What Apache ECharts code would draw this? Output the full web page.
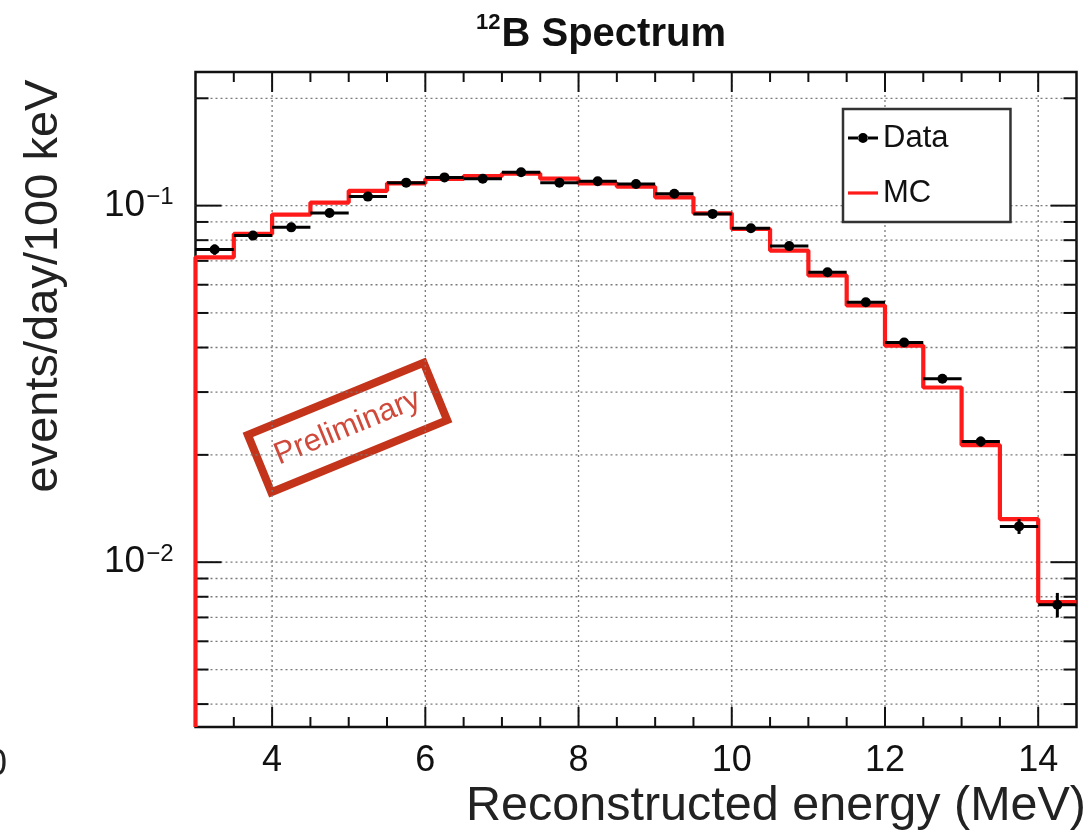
<!DOCTYPE html>
<html><head><meta charset="utf-8">
<script src="https://cdn.jsdelivr.net/npm/echarts@6/dist/echarts.min.js"></script>
<style>html,body{margin:0;padding:0;background:#fff}#c{width:1092px;height:837px}</style>
</head><body><div id="c"></div>
<script>
// ---- data ----
const binEdges = [3,3.5,4,4.5,5,5.5,6,6.5,7,7.5,8,8.5,9,9.5,10,10.5,11,11.5,12,12.5,13,13.5,14,14.5];
const binCenters = [3.25,3.75,4.25,4.75,5.25,5.75,6.25,6.75,7.25,7.75,8.25,8.75,9.25,9.75,10.25,10.75,11.25,11.75,12.25,12.75,13.25,13.75,14.25];
const dataValues = [0.0753,0.0824,0.0869,0.0954,0.106,0.116,0.120,0.119,0.124,0.116,0.117,0.115,0.108,0.0948,0.0864,0.0770,0.0650,0.0536,0.0413,0.0327,0.0218,0.0126,0.0076];
const dataErrors = [0.0025,0.002,0.002,0.002,0.002,0.002,0.002,0.002,0.0022,0.002,0.002,0.002,0.002,0.0018,0.0017,0.0015,0.0014,0.0012,0.001,0.0009,0.0007,0.0006,0.0006];
const mcValues = [0.0716,0.0833,0.0944,0.102,0.110,0.1155,0.1188,0.121,0.123,0.119,0.1155,0.113,0.1055,0.0952,0.086,0.0748,0.0637,0.0525,0.0405,0.0309,0.0213,0.0132,0.00773];
const xTickLabels = [4,6,8,10,12,14];
const xMinorTicks = [3.5,4.5,5,5.5,6.5,7,7.5,8.5,9,9.5,10.5,11,11.5,12.5,13,13.5];
const yTickLabels = [0.01,0.1];
const yMinorTicks = [0.004,0.005,0.006,0.007,0.008,0.009,0.02,0.03,0.04,0.05,0.06,0.07,0.08,0.09,0.2];
const xRange = [3,14.5];
const yRange = [0.00345,0.237];

const FONT = 'Liberation Sans, Arial, Helvetica, sans-serif';
const supDigits = {'-':'\u2212','0':'0','1':'1','2':'2','3':'3','4':'4','5':'5','6':'6','7':'7','8':'8','9':'9'};

const chart = echarts.init(document.getElementById('c'), null, {renderer:'canvas'});

const dataItems = binCenters.map((c,i)=>[c, dataValues[i], dataErrors[i], binEdges[i], binEdges[i+1]]);
const mcLine = [[binEdges[0], yRange[0]]]
  .concat(mcValues.map((v,i)=>[binEdges[i], v]))
  .concat([[binEdges[binEdges.length-1], mcValues[mcValues.length-1]]]);

function near(a,b){return Math.abs(a-b) < 1e-9*Math.max(1,Math.abs(b));}

const option = {
  animation:false,
  backgroundColor:'#fff',
  title:{
    text:'{s|12}{b|B Spectrum}',
    left:471, top:7,
    textStyle:{
      rich:{
        s:{fontSize:22,fontWeight:'bold',fontFamily:FONT,color:'#111',verticalAlign:'top',lineHeight:46,padding:[0,1,0,0]},
        b:{fontSize:40,fontWeight:'bold',fontFamily:FONT,color:'#111',lineHeight:46}
      }
    }
  },
  legend:{
    left:843, top:109, orient:'vertical',
    padding:[11,62,11,5], itemGap:19, itemWidth:30, itemHeight:10,
    backgroundColor:'#fff', borderColor:'#333', borderWidth:2.5,
    textStyle:{fontFamily:FONT,fontSize:31,color:'#111',lineHeight:36},
    data:[
      {name:'Data', icon:'path://M0,8.5H10.5V11.5H0Z M19.5,8.5H30V11.5H19.5Z M10,10A5,5 0 1,0 20,10A5,5 0 1,0 10,10Z'},
      {name:'MC', icon:'path://M0,0H30V3.2H0Z', itemStyle:{color:'#ff1a1a'}}
    ]
  },
  grid:{left:195.5, right:15.5, top:72, bottom:110, show:true, borderColor:'#111', borderWidth:2.5, backgroundColor:'transparent'},
  xAxis:{
    type:'value', min:xRange[0], max:xRange[1], interval:1,
    axisLine:{show:false}, axisTick:{show:false}, splitLine:{show:false},
    axisLabel:{
      margin:16, fontFamily:FONT, fontSize:36, color:'#111',
      formatter:v=> xTickLabels.some(t=>near(v,t)) ? String(v) : ''
    }
  },
  yAxis:{
    type:'log', logBase:10, min:yRange[0], max:yRange[1],
    axisLine:{show:false}, axisTick:{show:false}, splitLine:{show:false},
    axisLabel:{
      margin:22, color:'#111',
      formatter:v=>{
        if(!yTickLabels.some(t=>near(v,t))) return '';
        const e = Math.round(Math.log10(v));
        const s = String(e).split('').map(ch=>supDigits[ch]).join('');
        return '{b|10}{s|'+s+'}';
      },
      rich:{
        b:{fontFamily:FONT,fontSize:37,color:'#111',lineHeight:40},
        s:{fontFamily:FONT,fontSize:24,color:'#111',verticalAlign:'top',lineHeight:40,padding:[0,0,14,1]}
      }
    }
  },
  series:[
    {
      name:'gridlines', type:'custom', silent:true, z:1, clip:true,
      data:[[xRange[0], yRange[0]]],
      renderItem:(params, api)=>{
        const ch = [];
        const dash = {stroke:'#7a7a7a', lineWidth:1.3, lineDash:[2,3]};
        yMinorTicks.concat(yTickLabels).forEach(v=>{
          const a = api.coord([xRange[0], v]), b = api.coord([xRange[1], v]);
          ch.push({type:'line', shape:{x1:a[0],y1:a[1],x2:b[0],y2:b[1]}, style:dash});
        });
        xTickLabels.forEach(x=>{
          const a = api.coord([x, yRange[0]]), b = api.coord([x, yRange[1]]);
          ch.push({type:'line', shape:{x1:a[0],y1:a[1],x2:b[0],y2:b[1]}, style:dash});
        });
        return {type:'group', children:ch};
      }
    },
    {
      name:'ticks', type:'custom', silent:true, z:5, clip:false,
      data:[[xRange[0], yRange[0]]],
      renderItem:(params, api)=>{
        const ch = [];
        const st = {stroke:'#111', lineWidth:2};
        function tickY(v, len){
          const a = api.coord([xRange[0], v]), b = api.coord([xRange[1], v]);
          ch.push({type:'line', shape:{x1:a[0],y1:a[1],x2:a[0]+len,y2:a[1]}, style:st});
          ch.push({type:'line', shape:{x1:b[0],y1:b[1],x2:b[0]-len,y2:b[1]}, style:st});
        }
        function tickX(x, len){
          const a = api.coord([x, yRange[0]]), b = api.coord([x, yRange[1]]);
          ch.push({type:'line', shape:{x1:a[0],y1:a[1],x2:a[0],y2:a[1]-len}, style:st});
          ch.push({type:'line', shape:{x1:b[0],y1:b[1],x2:b[0],y2:b[1]+len}, style:st});
        }
        yTickLabels.forEach(v=>tickY(v, 26));
        yMinorTicks.forEach(v=>tickY(v, 13));
        xTickLabels.forEach(x=>tickX(x, 20));
        xMinorTicks.forEach(x=>tickX(x, 10));
        return {type:'group', children:ch};
      }
    },
    {
      name:'MC', type:'line', step:'end', data:mcLine, showSymbol:false, symbol:'none',
      z:6, clip:true,
      lineStyle:{color:'#ff1a1a', width:4.2}, itemStyle:{color:'#ff1a1a'}
    },
    {
      name:'Data', type:'custom', z:7, clip:true,
      itemStyle:{color:'#000'},
      data:dataItems,
      encode:{x:0, y:1},
      renderItem:(params, api)=>{
        const x = api.value(0), y = api.value(1), e = api.value(2), lo = api.value(3), hi = api.value(4);
        const p = api.coord([x,y]);
        const l = api.coord([lo,y]), r = api.coord([hi,y]);
        const t = api.coord([x,y+e]), b = api.coord([x,y-e]);
        const st = {stroke:'#000', lineWidth:3};
        return {type:'group', children:[
          {type:'line', shape:{x1:l[0],y1:l[1],x2:r[0],y2:r[1]}, style:st},
          {type:'line', shape:{x1:t[0],y1:t[1],x2:b[0],y2:b[1]}, style:st},
          {type:'circle', shape:{cx:p[0],cy:p[1],r:5}, style:{fill:'#000'}}
        ]};
      }
    }
  ],
  graphic:[
    {type:'text', left:-13, top:747, style:{text:'0', font:'36px '+FONT, fill:'#222'}},
    {type:'text', rotation:Math.PI/2, x:21, y:286, style:{text:'events/day/100 keV', font:'47px '+FONT, fill:'#222', textAlign:'center', textVerticalAlign:'top'}},
    {type:'text', x:1086, y:782, style:{text:'Reconstructed energy (MeV)', font:'48.5px '+FONT, fill:'#222', textAlign:'right', textVerticalAlign:'top'}},
    {type:'group', x:347.5, y:427.5, rotation:0.389, z:50, children:[
      {type:'rect', shape:{x:-95, y:-31, width:190, height:62}, style:{fill:'#fff', stroke:'#c4341b', lineWidth:8}},
      {type:'text', style:{text:'Preliminary', font:'31px '+FONT, fill:'#d04a3c', textAlign:'center', textVerticalAlign:'middle'}}
    ]}
  ]
};
chart.setOption(option);
</script>
</body></html>
